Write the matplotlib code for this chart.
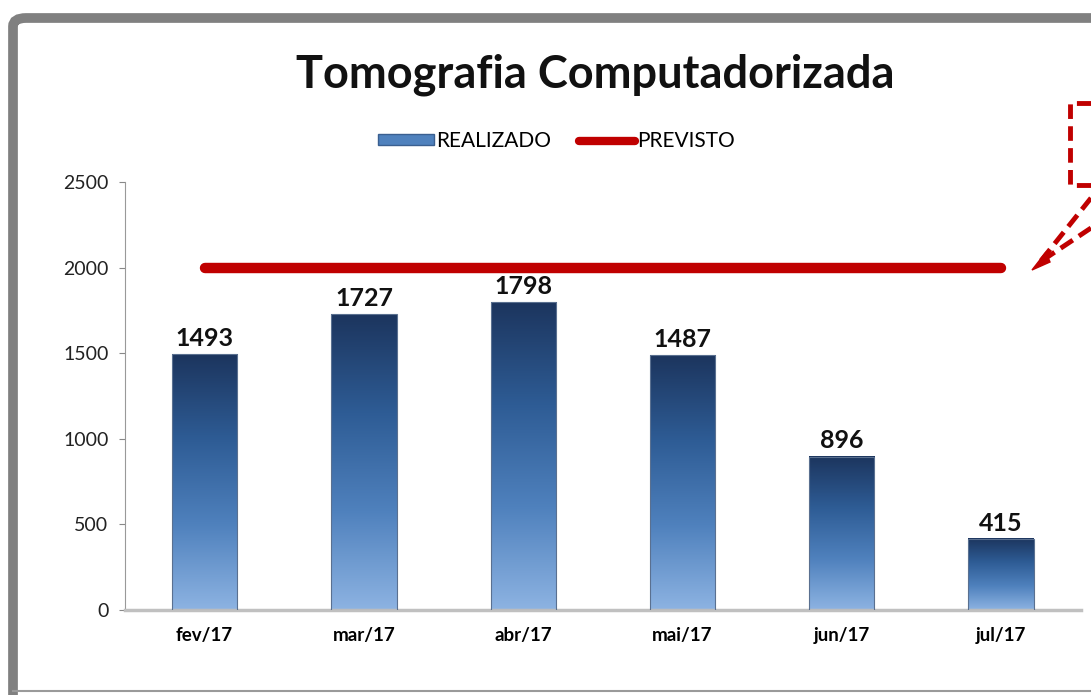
import matplotlib.pyplot as plt
import numpy as np
from matplotlib.colors import LinearSegmentedColormap
from matplotlib.lines import Line2D
from matplotlib.patches import Patch, FancyBboxPatch, Polygon

meses = ['fev/17', 'mar/17', 'abr/17', 'mai/17', 'jun/17', 'jul/17']
realizado = [1493, 1727, 1798, 1487, 896, 415]
previsto = [2000, 2000, 2000, 2000, 2000, 2000]

plt.rcParams['font.family'] = ['Lato', 'DejaVu Sans']

fig = plt.figure(figsize=(10.91, 6.95), dpi=100)
ax = fig.add_axes([0.1146, 0.1223, 0.876, 0.6157])

# barras com gradiente (escuro em cima, claro em baixo)
cmap = LinearSegmentedColormap.from_list('azul', ['#1c355e', '#2e5c95', '#4f81bd', '#8db3e2'])
grad = np.linspace(0, 1, 256).reshape(-1, 1)
x = np.arange(len(meses))
w = 0.41
bars = ax.bar(x, realizado, width=w, color='none', edgecolor='#5a7090', linewidth=0.8, zorder=3)
for b, v in zip(bars, realizado):
    ax.imshow(grad, cmap=cmap, aspect='auto', zorder=2,
              extent=[b.get_x(), b.get_x() + w, 0, v], interpolation='bicubic')
    ax.text(b.get_x() + w / 2, v + 25, str(v), ha='center', va='bottom',
            fontsize=18, fontweight='bold', color='#111111')

ax.plot(x, previsto, color='#c00000', linewidth=7.5, solid_capstyle='round', zorder=4)

ax.set_xlim(-0.5, len(meses) - 0.5)
ax.set_ylim(0, 2500)
ax.set_yticks([0, 500, 1000, 1500, 2000, 2500])
ax.set_xticks(x)
ax.set_xticklabels(meses, fontweight='bold', fontsize=13.5)
ax.tick_params(axis='y', labelsize=14, length=4, color='#888888', pad=8, labelcolor='#222222')
ax.tick_params(axis='x', length=0, pad=12)
for s in ['top', 'right']:
    ax.spines[s].set_visible(False)
ax.spines['left'].set_color('#999999')
ax.spines['left'].set_linewidth(0.8)
ax.spines['bottom'].set_color('#c0c0c0')
ax.spines['bottom'].set_linewidth(2.5)

fig.text(0.546, 0.893, 'Tomografia Computadorizada', ha='center', va='center',
         fontsize=32.5, fontweight='bold', color='#111111')

handles = [Patch(facecolor='#4f81bd', edgecolor='#3a5f90'),
           Line2D([0], [0], color='#c00000', linewidth=6, solid_capstyle='round')]
fig.legend(handles, ['REALIZADO', 'PREVISTO'], loc='center', bbox_to_anchor=(0.51, 0.797),
           ncol=2, frameon=False, fontsize=15, handlelength=2.7, handletextpad=0.1,
           columnspacing=1.3, handleheight=0.45)

# moldura cinza
fig.patches.append(FancyBboxPatch((13 / 1091, -0.2), 1.2, 1.2 - 18 / 695,
                                  boxstyle='round,pad=0,rounding_size=0.012',
                                  transform=fig.transFigure, fill=False,
                                  edgecolor='#808080', linewidth=7, zorder=0))
fig.add_artist(Line2D([13 / 1091, 1], [4 / 695, 4 / 695], color='#9a9a9a', linewidth=1.5))

# balão tracejado (cortado à direita)
W, H = 1091, 695
dash = (0, (3, 1.5))
pts = [(1091, 103), (1070, 103), (1070, 185), (1091, 185)]
fig.add_artist(Line2D([p[0] / W for p in pts], [1 - p[1] / H for p in pts],
                      color='#c00000', linewidth=3.5, linestyle=dash))
for yy in (198, 228):
    fig.add_artist(Line2D([1091 / W, 1040 / W], [1 - yy / H, 1 - 262 / H],
                          color='#c00000', linewidth=3.5, linestyle=dash))
fig.add_artist(Polygon([(1032 / W, 1 - 270 / H), (1046 / W, 1 - 252 / H), (1050 / W, 1 - 262 / H)],
                       closed=True, transform=fig.transFigure, color='#c00000'))

fig.savefig('out.png', dpi=100)
